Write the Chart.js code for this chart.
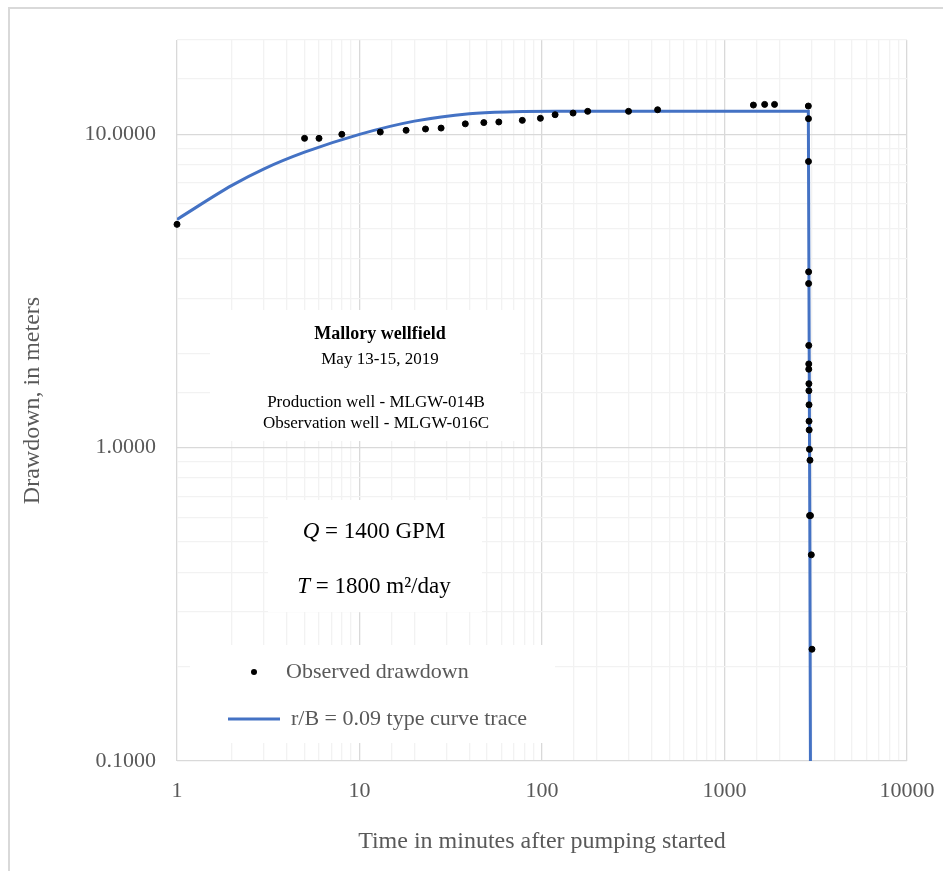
<!DOCTYPE html>
<html>
<head>
<meta charset="utf-8">
<script src="https://cdn.jsdelivr.net/npm/chart.js@4.4.1/dist/chart.umd.min.js"></script>
<style>
  body { margin: 0; background: #ffffff; }
  #wrap { width: 943px; height: 871px; position: relative; }
</style>
</head>
<body>
<div id="wrap"><canvas id="drawdownChart"></canvas></div>
<script>
// observed drawdown (minutes, meters)
const obsTime = [1, 5, 6, 8, 13, 18, 23, 28, 38, 48, 58, 78, 98, 118, 148, 178, 298, 430,
  1440, 1660, 1880, 2880, 2885, 2885,
  2890, 2890, 2895, 2895, 2895, 2900, 2900, 2905, 2905, 2910, 2920, 2940, 2925, 2960, 2990, 3015];
const obsDrawdown = [5.16, 9.71, 9.71, 10.0, 10.17, 10.3, 10.4, 10.47, 10.8, 10.9, 10.95, 11.08, 11.25, 11.55, 11.69, 11.84, 11.84, 11.98,
  12.4, 12.46, 12.46, 12.31, 11.22, 8.19,
  3.64, 3.34, 2.12, 1.85, 1.78, 1.60, 1.52, 1.37, 1.215, 1.139, 0.988, 0.912, 0.607, 0.607, 0.455, 0.2274];

// r/B = 0.09 type curve trace
const curveTime = [1, 2, 3, 5, 10, 20, 40, 70, 120, 500, 1000, 2000, 2880, 2960];
const curveDrawdown = [5.35, 6.87, 7.76, 8.77, 10.0, 11.02, 11.64, 11.8, 11.84, 11.84, 11.84, 11.84, 11.84, 0.08];

const xMajorTicks = [1, 10, 100, 1000, 10000];
const yMajorTicks = [0.1, 1, 10];

const serif = '"Liberation Serif", "Times New Roman", serif';
const gray = '#595959';

function isMajor(v, list) {
  return list.some(function (m) { return Math.abs(v - m) / m < 1e-6; });
}

// white boxes with notes and the legend, drawn over the grid
const notesPlugin = {
  id: 'notes',
  beforeDraw: function (chart) {
    var c = chart.ctx;
    c.save();
    c.strokeStyle = '#d9d9d9';
    c.lineWidth = 2;
    c.strokeRect(9, 8, 960, 900);
    c.restore();
  },
  afterDatasetsDraw: function (chart) {
    var c = chart.ctx;
    c.save();
    c.fillStyle = '#ffffff';
    c.fillRect(210, 310, 310, 131);
    c.fillRect(268, 500, 214, 112);
    c.fillRect(190, 645, 365, 98);

    c.textBaseline = 'alphabetic';
    c.fillStyle = '#000000';
    c.textAlign = 'center';
    c.font = 'bold 18px ' + serif;
    c.fillText('Mallory wellfield', 380, 339);
    c.font = '17px ' + serif;
    c.fillText('May 13-15, 2019', 380, 364);
    c.fillText('Production well - MLGW-014B', 376, 407);
    c.fillText('Observation well - MLGW-016C', 376, 428);

    // Q and T lines with italic symbols
    c.textAlign = 'left';
    c.font = 'italic 23px ' + serif;
    var wq = c.measureText('Q').width;
    c.font = '23px ' + serif;
    var rq = ' = 1400 GPM';
    var wr = c.measureText(rq).width;
    var x0 = 374 - (wq + wr) / 2;
    c.font = 'italic 23px ' + serif;
    c.fillText('Q', x0, 538);
    c.font = '23px ' + serif;
    c.fillText(rq, x0 + wq, 538);

    c.font = 'italic 23px ' + serif;
    var wt = c.measureText('T').width;
    c.font = '23px ' + serif;
    var rt = ' = 1800 m²/day';
    var wr2 = c.measureText(rt).width;
    x0 = 374 - (wt + wr2) / 2;
    c.font = 'italic 23px ' + serif;
    c.fillText('T', x0, 593);
    c.font = '23px ' + serif;
    c.fillText(rt, x0 + wt, 593);

    // legend
    c.fillStyle = '#000000';
    c.beginPath();
    c.arc(254, 672, 3, 0, Math.PI * 2);
    c.fill();
    c.strokeStyle = '#4472C4';
    c.lineWidth = 3;
    c.beginPath();
    c.moveTo(228, 719);
    c.lineTo(280, 719);
    c.stroke();
    c.fillStyle = gray;
    c.font = '22px ' + serif;
    c.textBaseline = 'middle';
    c.fillText('Observed drawdown', 286, 672);
    c.fillText('r/B = 0.09 type curve trace', 291, 719);
    c.restore();
  }
};

document.addEventListener('DOMContentLoaded', function () {
  var ctx = document.getElementById('drawdownChart').getContext('2d');

  var obsPoints = obsTime.map(function (t, i) { return { x: t, y: obsDrawdown[i] }; });
  var curvePoints = curveTime.map(function (t, i) { return { x: t, y: curveDrawdown[i] }; });

  new Chart(ctx, {
    type: 'scatter',
    data: {
      datasets: [{
        label: 'Observed drawdown',
        data: obsPoints,
        backgroundColor: '#000000',
        borderColor: '#000000',
        pointRadius: 3,
        pointHoverRadius: 3,
        clip: false
      }, {
        label: 'r/B = 0.09 type curve trace',
        data: curvePoints,
        showLine: true,
        borderColor: '#4472C4',
        borderWidth: 3,
        pointRadius: 0,
        cubicInterpolationMode: 'monotone'
      }]
    },
    options: {
      responsive: true,
      maintainAspectRatio: false,
      animation: false,
      layout: { padding: { top: 40, right: 36, left: 0, bottom: 0 } },
      plugins: {
        legend: { display: false },
        tooltip: { enabled: false }
      },
      scales: {
        x: {
          type: 'logarithmic',
          min: 1,
          max: 10000,
          afterFit: function (s) {
            s.height = 110;
            s.paddingLeft = 0;
            s.paddingRight = 0;
          },
          border: { display: false },
          grid: {
            drawTicks: false,
            color: function (c) { return isMajor(c.tick.value, xMajorTicks) ? '#d9d9d9' : '#f2f2f2'; },
            lineWidth: 1.3
          },
          ticks: {
            autoSkip: false,
            maxRotation: 0,
            padding: 17,
            color: gray,
            font: { family: serif, size: 22 },
            callback: function (v) { return isMajor(v, xMajorTicks) ? String(v) : ''; }
          },
          title: {
            display: true,
            text: 'Time in minutes after pumping started',
            color: gray,
            font: { family: serif, size: 24 },
            padding: { top: 0, bottom: 15 }
          }
        },
        y: {
          type: 'logarithmic',
          min: 0.1,
          max: 20,
          afterFit: function (s) {
            s.width = 177;
            s.paddingTop = 0;
            s.paddingBottom = 0;
          },
          border: { display: false },
          grid: {
            drawTicks: false,
            color: function (c) { return isMajor(c.tick.value, yMajorTicks) ? '#d9d9d9' : '#f2f2f2'; },
            lineWidth: 1.3
          },
          ticks: {
            autoSkip: false,
            padding: 21,
            color: gray,
            font: { family: serif, size: 22 },
            callback: function (v) { return isMajor(v, yMajorTicks) ? v.toFixed(4) : ''; }
          },
          title: {
            display: true,
            text: 'Drawdown, in meters',
            color: gray,
            font: { family: serif, size: 24 },
            padding: { top: 18, bottom: 0 }
          }
        }
      }
    },
    plugins: [notesPlugin]
  });
});
</script>
</body>
</html>
